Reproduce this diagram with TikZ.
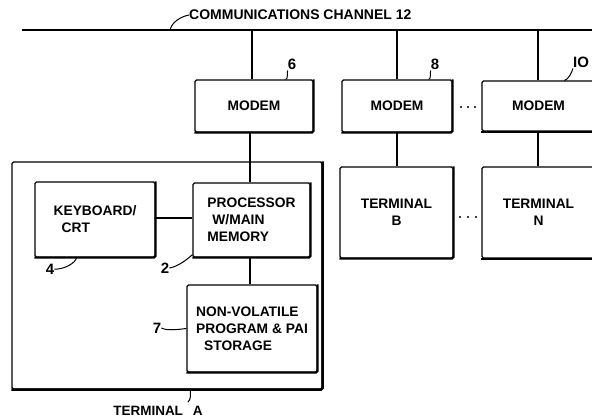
\documentclass[tikz,border=0pt]{standalone}
\usepackage{fontspec}
\setmainfont{Liberation Sans}
\usetikzlibrary{calc}
\begin{document}
\begin{tikzpicture}[x=1pt,y=-1pt,
  box/.style={draw, line width=1.1pt, rounded corners=1.5pt, inner sep=0pt,
    font=\bfseries\fontsize{13.8}{17}\selectfont, align=left},
  lbl/.style={font=\bfseries\fontsize{15}{16}\selectfont, inner sep=0pt},
  wire/.style={line width=1.1pt},
  leader/.style={line width=1pt},
  shade/.style={line width=2pt, rounded corners=1.5pt},
  chan/.style={line width=1.8pt}]
\clip (0,0) rectangle (592,417);
\fill[white] (0,0) rectangle (592,417);
% channel
\coordinate (chL) at (22,30);
\coordinate (chR) at (600,30);
\coordinate (chT) at (170,30);
\coordinate (t1) at (252,30);
\coordinate (t2) at (397,30);
\coordinate (t3) at (538,30);
\draw[chan] (chL) -- (chR);
\node[lbl, font=\bfseries\fontsize{14}{16}\selectfont, anchor=west] (nch) at (189,15) {COMMUNICATIONS CHANNEL 12};
\draw[leader] (chT) .. controls +(2,-9) and +(-6,1) .. (nch.west);
% modems
\node[box, minimum width=118pt, minimum height=52pt, align=center] (m1) at (254,106) {MODEM};
\node[box, minimum width=110pt, minimum height=52pt, align=center] (m2) at (397,106) {MODEM};
\node[box, minimum width=113pt, minimum height=50pt, align=center] (m3) at (538.5,106) {MODEM};
% terminal A outline
\node[draw, line width=1.1pt, rounded corners=1.5pt, minimum width=310pt, minimum height=227pt, inner sep=0pt] (termA) at (167,275.5) {};
\draw[line width=2.6pt, rounded corners=1.5pt] (termA.north east) -- (termA.south east) -- (termA.south west);
% inner boxes
\node[box, minimum width=120pt, minimum height=75pt] (kb) at (95,219.5) {KEYBOARD/\\\hspace*{8pt}CRT};
\node[box, minimum width=117pt, minimum height=74pt] (proc) at (251.5,220) {PROCESSOR\\\hspace*{5pt}W/MAIN\\MEMORY};
\node[box, minimum width=130pt, minimum height=87pt] (nvm) at (252,328.5) {NON-VOLATILE\\PROGRAM \& PAI\\\hspace*{8pt}STORAGE};
% other terminals
\node[box, minimum width=113pt, minimum height=91pt, align=center] (tb) at (396.5,212.5) {TERMINAL\\B};
\node[box, minimum width=113pt, minimum height=91pt, align=center] (tn) at (538.5,212.5) {TERMINAL\\N};
% shading of box edges
\foreach \n in {m1,m2,kb,proc,nvm,tb}
  \draw[shade] (\n.north east) -- (\n.south east) -- (\n.south west);
\foreach \n in {m3,tn}
  \draw[shade] (\n.south east) -- (\n.south west);
% connectors
\draw[wire] (t1) -- (t1 |- m1.north);
\draw[wire] (t2) -- (t2 |- m2.north);
\draw[wire] (t3) -- (t3 |- m3.north);
\draw[wire] (m1.south -| 250,0) -- (proc.north -| 250,0);
\draw[wire] (t2 |- m2.south) -- (t2 |- tb.north);
\draw[wire] (t3 |- m3.south) -- (t3 |- tn.north);
\draw[wire] (kb.east |- 0,218) -- (proc.west |- 0,218);
\draw[wire] (proc.south -| 250,0) -- (nvm.north -| 250,0);
% ellipses
\foreach \x in {461,468,475} \fill (\x,107) circle (1.2pt);
\foreach \x in {460,468,476} \fill (\x,217) circle (1.2pt);
% reference numerals
\node[lbl] (n6) at (292,64) {6};
\draw[leader] ($(m1.north east)+(-28,0)$) .. controls +(3,-1) and +(-1,3) .. ($(n6.south west)+(0,1)$);
\node[lbl] (n8) at (435,64) {8};
\draw[leader] ($(m2.north east)+(-24,0)$) .. controls +(3,-1) and +(-1,3) .. ($(n8.south west)+(0,1)$);
\node[lbl] (n10) at (581,62) {IO};
\draw[leader] ($(m3.north west)+(83,0)$) .. controls +(4,-1) and +(-1,4) .. ($(n10.south west)+(0,1)$);
\node[lbl] (n4) at (50,269) {4};
\draw[leader] (n4.east) .. controls +(9,1) and +(0,5) .. ($(kb.south west)+(42,0)$);
\node[lbl] (n2) at (165,268) {2};
\draw[leader] (n2.east) .. controls +(8,-1) and +(-4,4) .. ($(proc.south west)+(0,-3)$);
\node[lbl] (n7) at (157,328) {7};
\draw[leader] (n7.east) .. controls +(6,3) and +(-9,1) .. (nvm.west);
\node[lbl, font=\bfseries\fontsize{13.5}{16}\selectfont] (nTA) at (158,411) {TERMINAL\hspace{10pt}A};
\draw[leader] ($(termA.south west)+(179,0)$) .. controls +(0,6) and +(3,-3) .. ($(nTA.north east)+(-15,-4)$);
\end{tikzpicture}
\end{document}
